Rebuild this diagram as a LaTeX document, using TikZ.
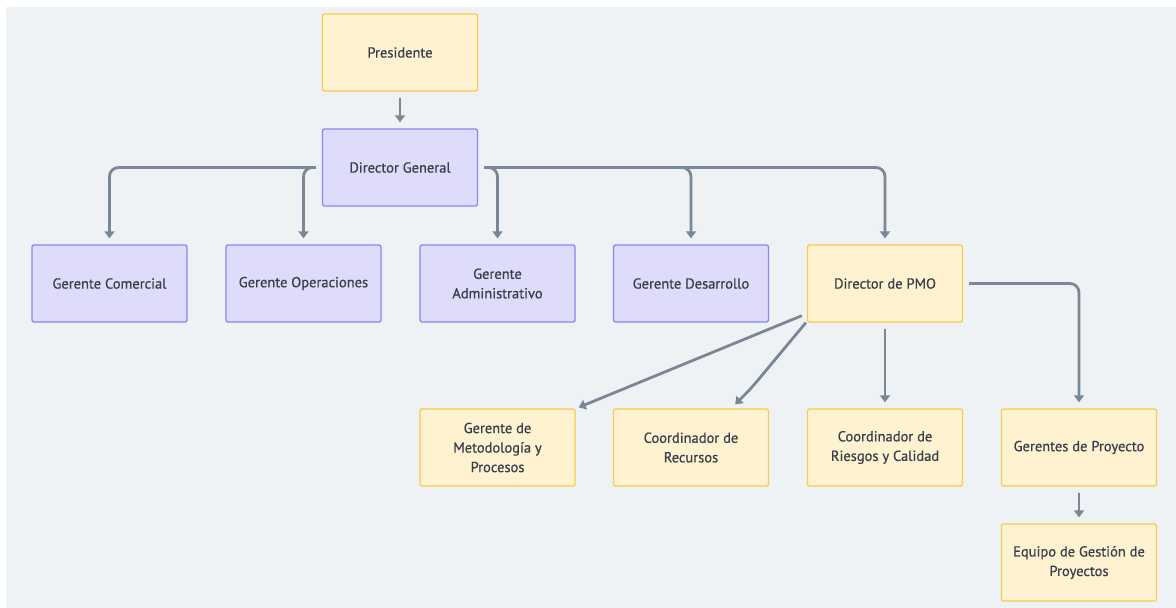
\documentclass[tikz,border=0pt]{standalone}
\usepackage{fontspec}
\setmainfont[FakeBold=0.6]{PT Sans}
\usetikzlibrary{arrows.meta}
\definecolor{fondo}{HTML}{EFF2F5}
\definecolor{amarillo}{HTML}{FFF2D1}
\definecolor{bordeam}{HTML}{F7CB4D}
\definecolor{lila}{HTML}{DEDCFA}
\definecolor{bordeli}{HTML}{8B85F2}
\definecolor{flecha}{HTML}{7A8794}
\definecolor{texto}{HTML}{383E4A}
\tikzset{
  caja/.style={draw,line width=1.3pt,rounded corners=2pt,minimum width=155pt,minimum height=77pt,
    align=center,font=\fontsize{14.5}{19.5}\selectfont,text=texto},
  cajaam/.style={caja,fill=amarillo,draw=bordeam},
  cajali/.style={caja,fill=lila,draw=bordeli},
  conn/.style={draw=flecha,line width=2.8pt,rounded corners=9pt,-{Triangle[width=10pt,length=7pt]},
    shorten <=6pt,shorten >=6pt}
}
\begin{document}
\begin{tikzpicture}[x=1pt,y=-1pt]
	\useasboundingbox (0,0) rectangle (1176,608);
	\fill[white] (0,0) rectangle (1176,608);
	\fill[fondo] (6,7) rectangle (1176,608);
	% nivel 1 y 2
	\node[cajaam] (pres) at (400,52.5) {Presidente};
	\node[cajali] (dirgen) at (400,167.5) {Director General};
	% gerencias
	\node[cajali] (gcom) at (109.5,283.5) {Gerente Comercial};
	\node[cajali] (gope) at (303.5,283.5) {Gerente Operaciones};
	\node[cajali] (gadm) at (497.5,283.5) {Gerente\\Administrativo};
	\node[cajali] (gdes) at (691,283.5) {Gerente Desarrollo};
	\node[cajaam] (dpmo) at (885,283.5) {Director de PMO};
	% PMO
	\node[cajaam] (gmet) at (497.5,447.5) {Gerente de\\Metodología y\\Procesos};
	\node[cajaam] (crec) at (691,447.5) {Coordinador de\\Recursos};
	\node[cajaam] (crie) at (885,447.5) {Coordinador de\\Riesgos y Calidad};
	\node[cajaam] (gpro) at (1079,447.5) {Gerentes de Proyecto};
	\node[cajaam] (equipo) at (1079,562.5) {Equipo de Gestión de\\Proyectos};
	% conexiones
	\draw[conn] (pres) -- (dirgen);
	\draw[conn] (dirgen.west) -| (gcom.north);
	\draw[conn] (dirgen.west) -| (gope.north);
	\draw[conn] (dirgen.east) -| (gadm.north);
	\draw[conn] (dirgen.east) -| (gdes.north);
	\draw[conn] (dirgen.east) -| (dpmo.north);
	\draw[conn,shorten <=0pt,shorten >=0pt] ([xshift=-5pt,yshift=7pt]dpmo.south west) -- ([xshift=3pt,yshift=1pt]gmet.north east);
	\draw[conn,shorten <=0pt,shorten >=0pt] ([xshift=-1pt]dpmo.south west) -- ++(-55,66) -- ([xshift=-34pt,yshift=4pt]crec.north east);
	\draw[conn] (dpmo) -- (crie);
	\draw[conn] (dpmo.east) -| (gpro.north);
	\draw[conn] (gpro) -- (equipo);
\end{tikzpicture}
\end{document}
